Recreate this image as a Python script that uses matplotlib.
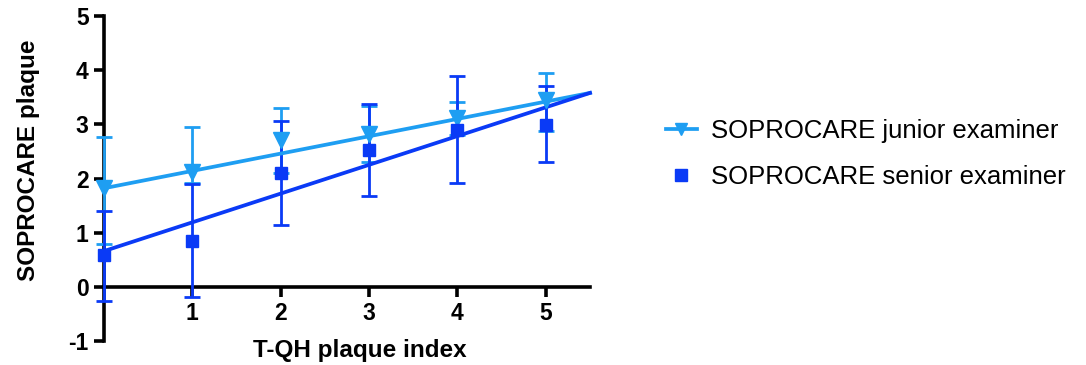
import matplotlib
matplotlib.use("Agg")
import matplotlib.pyplot as plt
import numpy as np
from matplotlib.lines import Line2D

plt.rcParams['font.family'] = ['Liberation Sans', 'DejaVu Sans']
plt.rcParams['axes.unicode_minus'] = False

# T-QH plaque index
tqh = [0, 1, 2, 3, 4, 5]

# junior examiner: mean, lower and upper error bar ends
junior_mean = [1.82, 2.12, 2.71, 2.82, 3.12, 3.45]
junior_lo = [0.79, 1.92, 2.10, 2.30, 2.80, 2.88]
junior_hi = [2.77, 2.95, 3.31, 3.34, 3.41, 3.95]

# senior examiner
senior_mean = [0.58, 0.85, 2.10, 2.53, 2.90, 2.99]
senior_lo = [-0.26, -0.18, 1.14, 1.68, 1.92, 2.30]
senior_hi = [1.40, 1.90, 3.06, 3.38, 3.89, 3.71]

# linear fit lines
fit_x = [0, 5.5]
junior_fit = [1.82, 3.58]
senior_fit = [0.66, 3.58]

light = '#1E9EF2'
dark = '#0A3AF6'

fig = plt.figure(figsize=(10.86, 3.65), dpi=100)
ax = fig.add_axes([104 / 1086, 1 - 341 / 365, 486 / 1086, 325 / 365])

jm = np.array(junior_mean)
sm = np.array(senior_mean)

ax.errorbar(tqh, jm, yerr=[jm - np.array(junior_lo), np.array(junior_hi) - jm],
            fmt='none', ecolor=light, elinewidth=2, capsize=5.5, capthick=2,
            clip_on=False, zorder=3)
ax.errorbar(tqh, sm, yerr=[sm - np.array(senior_lo), np.array(senior_hi) - sm],
            fmt='none', ecolor=dark, elinewidth=2, capsize=5.5, capthick=2,
            clip_on=False, zorder=4)

ax.plot(fit_x, junior_fit, color=light, lw=2.7, clip_on=False, zorder=5)
ax.plot(fit_x, senior_fit, color=dark, lw=2.7, clip_on=False, zorder=5)

ax.plot(tqh, jm, 'v', color=light, ms=11, clip_on=False, zorder=6)
ax.plot(tqh, sm, 's', color=dark, ms=8.5, clip_on=False, zorder=6)

ax.set_xlim(0, 5.5)
ax.set_ylim(-1, 5)
ax.spines['top'].set_visible(False)
ax.spines['right'].set_visible(False)
ax.spines['bottom'].set_position(('data', 0))
ax.spines['left'].set_linewidth(2.6)
ax.spines['bottom'].set_linewidth(2.6)
ax.set_xticks([1, 2, 3, 4, 5])
ax.set_yticks([-1, 0, 1, 2, 3, 4, 5])
ax.tick_params(axis='both', width=2.6, length=7, labelsize=16.5, pad=4)
for lab in ax.get_xticklabels() + ax.get_yticklabels():
    lab.set_fontweight('bold')

ax.set_xlabel('T-QH plaque index', fontsize=17.5, fontweight='bold', va='center')
ax.xaxis.set_label_coords(0.527, -0.03)
ax.set_ylabel('SOPROCARE plaque', fontsize=17.5, fontweight='bold', va='center')
ax.yaxis.set_label_coords(-0.155, 0.557)

handles = [
    Line2D([], [], color=light, lw=2.7, marker='v', ms=9),
    Line2D([], [], color=dark, lw=0, marker='s', ms=8),
]
fig.legend(handles, ['SOPROCARE junior examiner', 'SOPROCARE senior examiner'],
           loc='upper left', bbox_to_anchor=(0.592, 0.737), frameon=False,
           fontsize=18.5, handlelength=1.2, handletextpad=0.55, labelspacing=0.85)

fig.savefig('out.png', dpi=100)
